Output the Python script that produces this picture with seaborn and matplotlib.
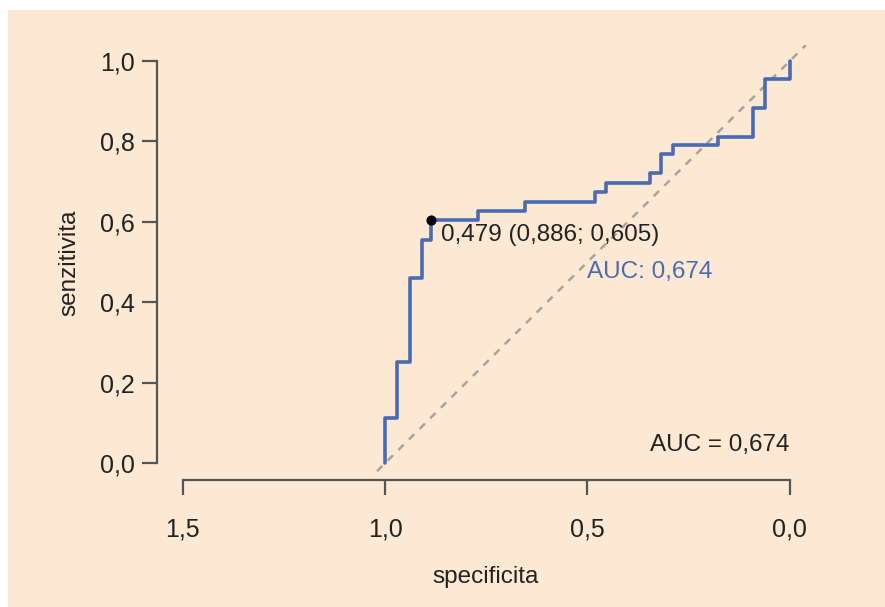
import matplotlib
matplotlib.use("Agg")
import matplotlib.pyplot as plt
import seaborn as sns
import pandas as pd
from matplotlib.patches import Rectangle

# ROC curve vertices (specificity, sensitivity)
specificity = [1.0, 1.0, 0.970, 0.938, 0.909, 0.886, 0.770, 0.654, 0.481, 0.454,
               0.346, 0.319, 0.289, 0.178, 0.091, 0.062, 0.0]
sensitivity = [0.0, 0.112, 0.251, 0.460, 0.555, 0.605, 0.627, 0.649, 0.674, 0.697,
               0.721, 0.769, 0.791, 0.811, 0.883, 0.955, 1.0]
best_spec, best_sens, best_thr = 0.886, 0.605, 0.479
auc = 0.674
x_ticks = [1.5, 1.0, 0.5, 0.0]
y_ticks = [0.0, 0.2, 0.4, 0.6, 0.8, 1.0]

def fmt(v, d=1):
    return f"{v:.{d}f}".replace(".", ",")

sns.set_theme(style="white")
plt.rcParams['font.family'] = ['Liberation Sans', 'DejaVu Sans']

BG = "#FDE9D3"
BLUE = "#4A6BB4"
TXT = "#222222"
FS = 17.5

W, H = 885, 607
fig = plt.figure(figsize=(W/100, H/100), dpi=100, facecolor="white")
fig.patches.append(Rectangle((8/W, 0), 1 - 8/W, 1 - 10/H, transform=fig.transFigure,
                             facecolor=BG, edgecolor="none", zorder=-10))

left, right, top, bottom = 157, 814, 45, 480
ax = fig.add_axes([left/W, 1 - bottom/H, (right-left)/W, (bottom-top)/H])
ax.set_facecolor("none")

df = pd.DataFrame({"spec": specificity, "sens": sensitivity})

xlim = (1.564, -0.06)
ylim = (-0.042, 1.04)
# diagonal reference line
ax.plot([1.02, -0.04], [-0.02, 1.04], color="#a8a39c", lw=1.8, ls=(0, (3, 3)), zorder=1)

sns.lineplot(data=df, x="spec", y="sens", sort=False, estimator=None,
             drawstyle="steps-post", color=BLUE, lw=2.6, ax=ax, zorder=3)

ax.scatter([best_spec], [best_sens], s=40, color="black", zorder=5)
ax.annotate(f"{fmt(best_thr,3)} ({fmt(best_spec,3)}; {fmt(best_sens,3)})",
            xy=(best_spec, best_sens), xytext=(7, -3), textcoords="offset points",
            ha="left", va="top", fontsize=FS, color=TXT)
ax.text(0.5, 0.475, f"AUC: {fmt(auc,3)}", ha="left", va="center", fontsize=FS, color=BLUE)
ax.text(0.0, 0.045, f"AUC = {fmt(auc,3)}", ha="right", va="center", fontsize=FS, color=TXT)

ax.set_xlim(*xlim)
ax.set_ylim(*ylim)
ax.set_xticks(x_ticks)
ax.set_yticks(y_ticks)
ax.set_xticklabels([fmt(v) for v in x_ticks])
ax.set_yticklabels([fmt(v) for v in y_ticks])

for s in ["top", "right"]:
    ax.spines[s].set_visible(False)
for s in ["left", "bottom"]:
    ax.spines[s].set_color("#555555")
    ax.spines[s].set_linewidth(1.6)
ax.spines["left"].set_bounds(0, 1)
ax.spines["bottom"].set_bounds(0, 1.5)

ax.tick_params(axis="both", which="major", direction="out", length=11, width=1.6,
               color="#555555", labelsize=18, labelcolor=TXT, bottom=True, left=True)
ax.tick_params(axis="x", pad=16)
ax.tick_params(axis="y", pad=5)

ax.set_xlabel("specificita", fontsize=FS, color=TXT, labelpad=18)
ax.set_ylabel("senzitivita", fontsize=FS, color=TXT, labelpad=14)

fig.savefig("out.png", dpi=100, facecolor=fig.get_facecolor())
